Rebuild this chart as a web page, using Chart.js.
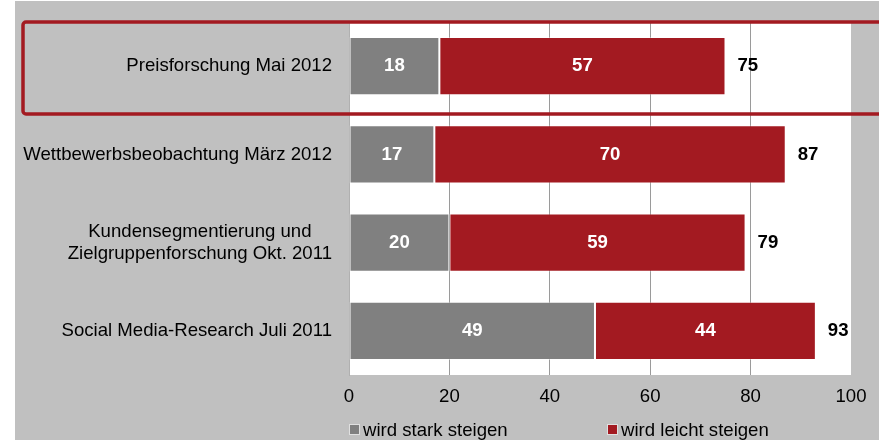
<!DOCTYPE html>
<html>
<head>
<meta charset="utf-8">
<script src="https://cdn.jsdelivr.net/npm/chart.js@4"></script>
<style>
  body { margin: 0; background: #fff; }
  #wrap { position: relative; width: 879px; height: 440px; }
</style>
</head>
<body>
<div id="wrap"><canvas id="chart"></canvas></div>
<script>
const categories = [
    "Preisforschung Mai 2012",
    "Wettbewerbsbeobachtung März 2012",
    ["Kundensegmentierung und", "Zielgruppenforschung Okt. 2011"],
    "Social Media-Research Juli 2011"
];
const starkSteigen = [18, 17, 20, 49];
const leichtSteigen = [57, 70, 59, 44];
const seriesNames = ["wird stark steigen", "wird leicht steigen"];
const xTicks = [0, 20, 40, 60, 80, 100];

const GREY = "#808080";
const RED = "#a31a21";
const FONT = "'Liberation Sans', Arial, sans-serif";
const FS = 18.6;

// Hintergrund: grau, Plotfläche weiß
const bgPlugin = {
    id: "bg",
    beforeDraw(chart) {
        const ctx = chart.ctx, a = chart.chartArea;
        ctx.save();
        ctx.fillStyle = "#c0c0c0";
        ctx.fillRect(15, 1, chart.width - 15, chart.height - 1);
        ctx.fillStyle = "#fff";
        ctx.fillRect(a.left, a.top, a.right - a.left, a.bottom - a.top);
        ctx.restore();
    }
};

// Beschriftungen: Kategorien, Werte, Summen, Legende, Markierung
const labelPlugin = {
    id: "labels",
    afterDatasetsDraw(chart) {
        const ctx = chart.ctx;
        const yScale = chart.scales.y;
        ctx.save();

        // Kategorien (mehrzeilig zentriert, rechtsbündig am Rand)
        ctx.fillStyle = "#000";
        ctx.font = FS + "px " + FONT;
        ctx.textBaseline = "middle";
        categories.forEach((cat, i) => {
            const y = yScale.getPixelForTick(i);
            const right = chart.chartArea.left - 17;
            if (Array.isArray(cat)) {
                const w = Math.max(...cat.map(l => ctx.measureText(l).width));
                ctx.textAlign = "center";
                cat.forEach((line, j) => {
                    ctx.fillText(line, right - w / 2, y + (j - (cat.length - 1) / 2) * 22);
                });
            } else {
                ctx.textAlign = "right";
                ctx.fillText(cat, right, y);
            }
        });

        // Werte in den Balken
        ctx.font = "bold " + FS + "px " + FONT;
        ctx.textAlign = "center";
        ctx.fillStyle = "#fff";
        chart.data.datasets.forEach((ds, di) => {
            chart.getDatasetMeta(di).data.forEach((bar, i) => {
                const p = bar.getProps(["x", "y", "base"], true);
                ctx.fillText(ds.data[i], (p.x + p.base) / 2, p.y);
            });
        });

        // Summen
        ctx.fillStyle = "#000";
        ctx.textAlign = "left";
        const last = chart.getDatasetMeta(1).data;
        last.forEach((bar, i) => {
            const p = bar.getProps(["x", "y"], true);
            ctx.fillText(starkSteigen[i] + leichtSteigen[i], p.x + 12, p.y);
        });

        // Legende
        ctx.font = FS + "px " + FONT;
        const legendX = [350, 608];
        [GREY, RED].forEach((c, i) => {
            ctx.fillStyle = c;
            ctx.fillRect(legendX[i], 425, 9, 9);
            ctx.strokeStyle = "#e0e0e0";
            ctx.lineWidth = 1;
            ctx.strokeRect(legendX[i] - 0.5, 424.5, 10, 10);
            ctx.fillStyle = "#000";
            ctx.fillText(seriesNames[i], legendX[i] + 13, 431);
        });

        // Markierung erste Zeile
        ctx.strokeStyle = RED;
        ctx.lineWidth = 3.5;
        ctx.beginPath();
        ctx.roundRect(23, 22, 880, 92, 3);
        ctx.stroke();

        ctx.restore();
    }
};

new Chart(document.getElementById("chart"), {
    type: "bar",
    data: {
        labels: categories,
        datasets: [
            {
                label: seriesNames[0],
                data: starkSteigen,
                backgroundColor: GREY,
                borderColor: "rgba(255,255,255,0.45)",
                borderWidth: 1,
                borderSkipped: false
            },
            {
                label: seriesNames[1],
                data: leichtSteigen,
                backgroundColor: RED,
                borderColor: "rgba(255,255,255,0.35)",
                borderWidth: 1,
                borderSkipped: false
            }
        ]
    },
    options: {
        indexAxis: "y",
        responsive: true,
        maintainAspectRatio: false,
        animation: false,
        layout: { padding: { left: 0, top: 22, right: 28, bottom: 0 } },
        datasets: { bar: { categoryPercentage: 1, barPercentage: 0.66 } },
        scales: {
            x: {
                stacked: true,
                min: 0,
                max: 100,
                afterBuildTicks(scale) {
                    scale.ticks = xTicks.map(v => ({ value: v }));
                },
                afterFit(scale) { scale.height = 65; },
                grid: {
                    color: ctx => (ctx.tick && ctx.tick.value === 100) ? "rgba(0,0,0,0)" : "#9a9a9a",
                    drawTicks: false,
                    lineWidth: 1
                },
                border: { display: false },
                ticks: {
                    color: "#000",
                    font: { family: FONT, size: FS },
                    padding: 11,
                    maxRotation: 0
                }
            },
            y: {
                stacked: true,
                afterFit(scale) { scale.width = 349; },
                grid: { display: false },
                border: { display: true, color: "#b0b0b0" },
                ticks: { display: false }
            }
        },
        plugins: {
            legend: { display: false },
            tooltip: { enabled: false }
        }
    },
    plugins: [bgPlugin, labelPlugin]
});
</script>
</body>
</html>
